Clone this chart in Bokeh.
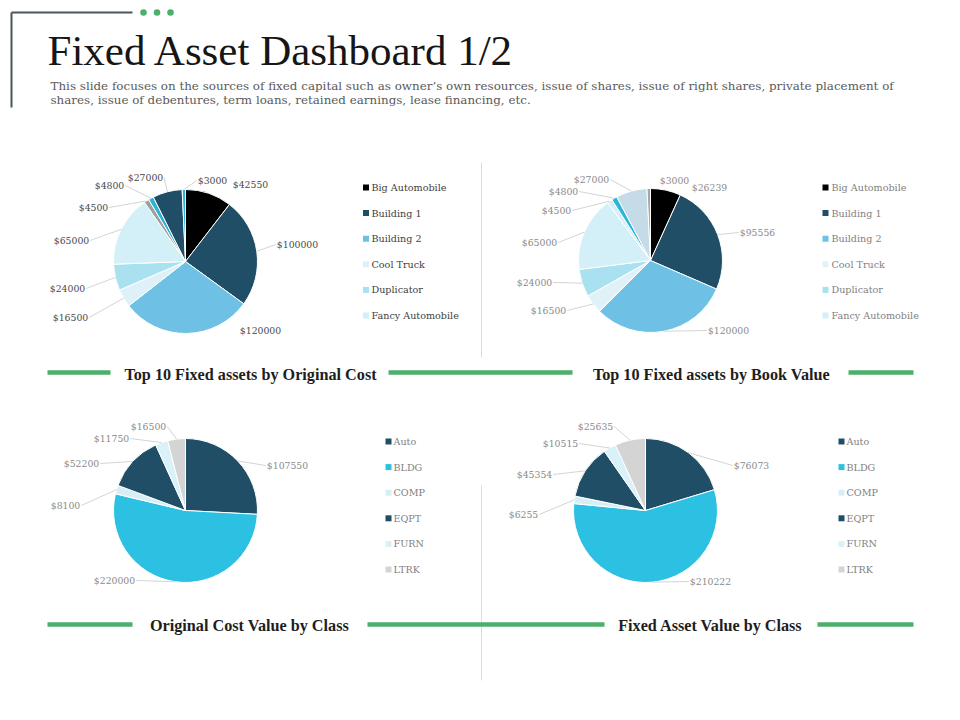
import numpy as np
from bokeh.plotting import figure
from bokeh.models import Range1d
from bokeh.core.properties import value
from bokeh.embed import file_html
from bokeh.resources import INLINE

# ---------------- data ----------------
asset_legend = ["Big Automobile", "Building 1", "Building 2", "Cool Truck", "Duplicator", "Fancy Automobile"]
original_cost = [42550, 100000, 120000, 16500, 24000, 65000, 4500, 4800, 27000, 3000]
book_value = [26239, 95556, 120000, 16500, 24000, 65000, 4500, 4800, 27000, 3000]
asset_classes = ["Auto", "BLDG", "COMP", "EQPT", "FURN", "LTRK"]
class_original_cost = [107550, 220000, 8100, 52200, 11750, 16500]
class_asset_value = [76073, 210222, 6255, 45354, 10515, 25635]

title_text = "Fixed Asset Dashboard 1/2"
subtitle_lines = [
    "This slide focuses on the sources of fixed capital such as owner\u2019s own resources, issue of shares, issue of right shares, private placement of",
    "shares, issue of debentures,  term loans, retained earnings, lease financing, etc.",
]
section_titles = ["Top 10 Fixed assets by Original Cost", "Top 10 Fixed assets by Book Value",
                  "Original Cost Value by Class", "Fixed Asset Value by Class"]

# ---------------- styles / layout ----------------
colors_cost = ["#000000", "#1f4e66", "#6ec1e4", "#dff1f8", "#a9e1f0", "#d3eff8", "#9e9e9e", "#2bb5d9", "#1f4e66", "#2bb5d9"]
colors_book = ["#000000", "#1f4e66", "#6ec1e4", "#e0f2f8", "#a9e1f0", "#d3eff8", "#d6f0f8", "#2bb5d9", "#c5dbe8", "#a6a6a6"]
colors_class = ["#1f4e66", "#2cc1e3", "#d8eef6", "#1f4e66", "#d9f1f8", "#d4d4d4"]

W, H = 944, 704
SERIF = "DejaVu Serif"
TSERIF = "Liberation Serif"
GREEN = "#4caf6c"

def Y(img_y):
    return 720 - img_y

p = figure(width=W, height=H, x_range=Range1d(0, 944), y_range=Range1d(16, 720),
           output_backend="svg", toolbar_location=None, x_axis_type=None, y_axis_type=None,
           min_border=0, outline_line_color=None, background_fill_color="white")
p.grid.visible = False

# decoration top-left
p.line(x=[11, 132], y=[Y(12), Y(12)], line_color="#4a555b", line_width=2)
p.line(x=[11, 11], y=[Y(12), Y(107)], line_color="#4a555b", line_width=2)
p.scatter(x=[143, 156.5, 170], y=[Y(12)] * 3, size=6.5, color=GREEN, line_color=None)

# title / subtitle
p.text(x=[47], y=[Y(50)], text=[title_text], text_font=value(TSERIF), text_font_size=value("43px"),
       text_color="#161616", text_baseline="middle", text_align="left")
p.text(x=[50, 50], y=[Y(85), Y(99)], text=subtitle_lines, text_font=value(SERIF),
       text_font_size=value("11.9px"), text_color="#5a5a5a", text_baseline="middle", text_align="left")

# dividers
p.line(x=[481, 481], y=[Y(162), Y(357)], line_color="#dcdcdc", line_width=1)
p.line(x=[481, 481], y=[Y(485), Y(680)], line_color="#dcdcdc", line_width=1)

# green separators with section titles
segs = [(47, 110, 372), (388, 572, 372), (848, 913, 372), (47, 132, 624), (367, 604, 624), (817, 913, 624)]
for (x0, x1, yy) in segs:
    p.line(x=[x0, x1], y=[Y(yy), Y(yy)], line_color=GREEN, line_width=4.5)
sec_pos = [(250, 374), (711, 374), (249, 625), (710, 625)]
p.text(x=[s[0] for s in sec_pos], y=[Y(s[1]) for s in sec_pos], text=section_titles,
       text_font=value(TSERIF), text_font_size=value("16.2px"), text_font_style="bold",
       text_color="#1e1e1e", text_baseline="middle", text_align="center")


def draw_pie(vals, cols, center, radius, label_offsets, leaders, label_color,
             legend_names, legend_sq_x, legend_txt_x, legend_y0, legend_color):
    cx, cyi = center
    cy = Y(cyi)
    v = np.array(vals, dtype=float)
    frac = v / v.sum()
    cum = np.concatenate([[0], np.cumsum(frac)]) * 2 * np.pi
    start = np.pi / 2 - cum[:-1]
    end = np.pi / 2 - cum[1:]
    p.wedge(x=[cx] * len(v), y=[cy] * len(v), radius=radius, start_angle=list(start),
            end_angle=list(end), direction="clock", fill_color=cols, line_color="white", line_width=1)
    mid = (start + end) / 2
    labels = ["$" + str(int(x)) for x in vals]
    lx = [cx + o[0] for o in label_offsets]
    ly = [cy - o[1] for o in label_offsets]
    xs, ys = [], []
    for i, lab in enumerate(labels):
        if not leaders[i]:
            continue
        w = len(lab) * 5.9
        ex = cx + radius * np.cos(mid[i])
        ey = cy + radius * np.sin(mid[i])
        if lx[i] > ex:
            sx = lx[i] - w / 2 - 1
        else:
            sx = lx[i] + w / 2 + 1
        xs.append([sx, ex])
        ys.append([ly[i], ey])
    if xs:
        p.multi_line(xs=xs, ys=ys, line_color="#d4d4d4", line_width=1)
    p.text(x=lx, y=ly, text=labels, text_font=value(SERIF), text_font_size=value("9.3px"),
           text_color=label_color, text_align="center", text_baseline="middle")
    # legend
    n = len(legend_names)
    ly_leg = [Y(legend_y0 + 25.6 * i) for i in range(n)]
    p.scatter(x=[legend_sq_x] * n, y=ly_leg, marker="square", size=6, fill_color=cols[:n], line_color=None)
    p.text(x=[legend_txt_x] * n, y=ly_leg, text=legend_names, text_font=value(SERIF),
           text_font_size=value("9.6px"), text_color=legend_color, text_align="left", text_baseline="middle")


draw_pie(original_cost, colors_cost, (185, 261), 72,
         [(65, -77), (112, -17), (75, 69), (-115, 56), (-118, 27), (-114, -21), (-92, -54), (-76, -76), (-40, -84), (27, -81)],
         [False, True, False, True, True, True, True, True, True, True], "#4a4a4a",
         asset_legend, 365.5, 371, 187, "#404040")
draw_pie(book_value, colors_book, (650, 260), 72,
         [(59, -73), (107, -28), (78, 70), (-102, 50), (-116, 22), (-111, -18), (-94, -50), (-87, -69), (-59, -81), (24, -80)],
         [False, True, True, True, True, True, True, True, True, False], "#8a8a8a",
         asset_legend, 825, 831, 187, "#7f7f7f")
draw_pie(class_original_cost, colors_class, (185, 510), 72,
         [(102, -45), (-71, 70), (-120, -5), (-104, -47), (-74, -72), (-37, -84)],
         [True] * 6, "#8a8a8a", asset_classes, 388, 393, 441, "#7f7f7f")
draw_pie(class_asset_value, colors_class, (645, 510), 72,
         [(106, -45), (65, 71), (-122, 4), (-111, -36), (-85, -67), (-50, -84)],
         [True] * 6, "#8a8a8a", asset_classes, 841, 846, 441, "#7f7f7f")

open("out.html", "w").write(file_html(p, INLINE))
